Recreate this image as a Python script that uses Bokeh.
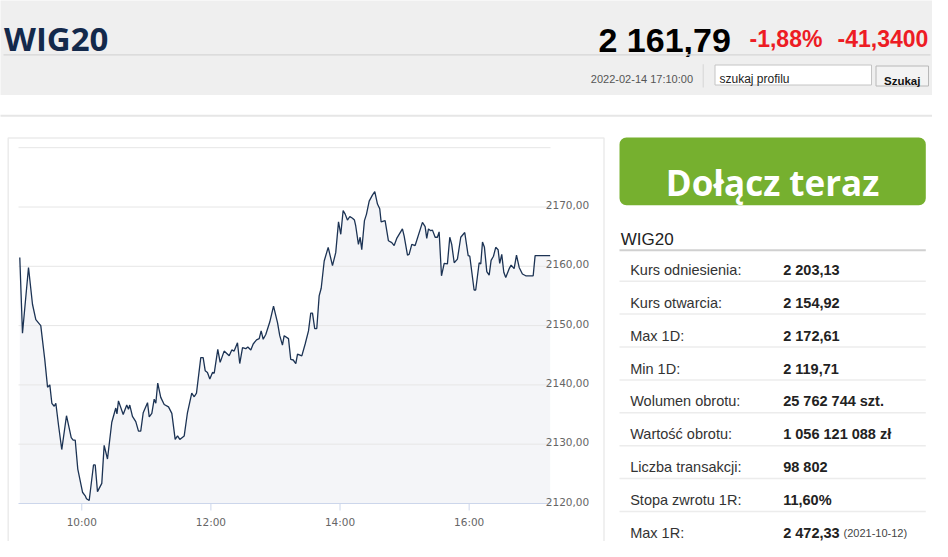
from bokeh.plotting import figure
from bokeh.models import Range1d, BoxAnnotation
from bokeh.core.properties import value
from bokeh.embed import file_html
from bokeh.resources import INLINE

# ---------------- data ----------------
# intraday WIG20 quotes, minutes after 09:00 and index value
time_min = [
    2.4, 4.9, 10.5, 14.2, 17.3, 21.9, 25.6, 28.2, 30.3, 32.2,
    34.4, 35.9, 38.4, 41.4, 45.8, 50.2, 52.0, 53.9, 56.3, 60.7,
    63.2, 64.4, 66.9, 70.9, 72.5, 74.6, 78.6, 80.8, 83.9, 87.9,
    91.6, 92.7, 94.1, 98.5, 101.8, 103.4, 104.6, 107.1, 110.2, 112.7,
    114.8, 117.1, 121.1, 122.7, 125.1, 127.3, 128.8, 130.6, 133.4, 136.6,
    140.6, 143.7, 146.8, 149.0, 151.1, 155.2, 158.2, 162.2, 164.5, 166.6,
    170.6, 172.8, 174.7, 176.8, 179.0, 181.5, 183.1, 186.4, 188.6, 192.3,
    197.0, 199.4, 201.6, 204.7, 206.8, 209.4, 212.4, 214.3, 217.1, 219.3,
    222.4, 224.9, 226.7, 228.6, 231.0, 234.7, 238.2, 241.9, 244.0, 246.5,
    248.1, 252.1, 254.2, 256.5, 258.9, 260.5, 264.5, 267.6, 270.7, 272.8,
    274.4, 276.5, 278.4, 280.6, 282.5, 285.3, 289.0, 293.0, 296.0, 298.6,
    300.7, 302.9, 304.8, 306.9, 309.1, 311.6, 313.4, 314.6, 317.1, 318.7,
    320.2, 322.7, 324.6, 327.1, 330.1, 332.3, 334.8, 336.9, 338.2, 341.9,
    345.0, 348.1, 350.3, 352.7, 358.0, 359.6, 362.7, 364.2, 366.7, 369.8,
    376.6, 379.1, 380.6, 382.2, 384.3, 385.9, 388.4, 390.5, 392.1, 394.3,
    396.8, 399.8, 402.0, 403.8, 406.1, 409.1, 412.2, 415.9, 419.1, 420.6,
    424.6, 426.1, 429.3, 430.8, 432.4, 434.2, 436.4, 438.6, 440.4, 442.6,
    444.7, 446.9, 448.4, 450.3, 452.2, 454.0, 457.2, 459.0, 461.8, 464.0,
    466.5, 469.5, 472.6, 479.5, 481.3, 495.3,
]
index_value = [
    2161.5, 2148.7, 2159.8, 2153.6, 2151.0, 2150.0, 2144.3, 2139.6, 2140.0, 2136.9,
    2136.4, 2136.9, 2133.2, 2129.1, 2134.8, 2131.1, 2130.7, 2130.7, 2125.8, 2121.9,
    2121.3, 2120.8, 2120.5, 2126.5, 2126.5, 2122.0, 2123.4, 2129.8, 2127.5, 2133.7,
    2136.1, 2135.1, 2137.3, 2135.0, 2136.6, 2135.9, 2136.6, 2134.7, 2133.8, 2132.2,
    2132.2, 2135.3, 2137.0, 2134.6, 2135.2, 2137.6, 2136.9, 2140.3, 2137.9, 2136.7,
    2136.3, 2135.2, 2130.8, 2131.4, 2130.8, 2131.4, 2135.3, 2138.6, 2138.0, 2138.6,
    2144.6, 2144.6, 2142.4, 2142.1, 2141.0, 2142.1, 2142.0, 2146.0, 2143.8, 2145.7,
    2144.9, 2145.9, 2145.7, 2147.1, 2143.6, 2146.3, 2146.1, 2146.4, 2145.9, 2146.9,
    2147.6, 2147.8, 2149.1, 2147.7, 2148.5, 2150.6, 2153.3, 2150.5, 2148.3, 2146.7,
    2148.3, 2147.8, 2144.3, 2144.2, 2143.6, 2145.2, 2144.9, 2146.9, 2149.1, 2152.1,
    2152.1, 2149.5, 2149.5, 2155.0, 2156.3, 2160.9, 2163.2, 2160.1, 2162.3, 2167.5,
    2165.4, 2169.4, 2168.8, 2167.8, 2168.4, 2168.1, 2167.8, 2166.8, 2163.7, 2164.9,
    2162.8, 2167.7, 2168.8, 2171.0, 2172.0, 2172.6, 2170.5, 2169.7, 2167.5, 2167.7,
    2164.3, 2164.0, 2163.5, 2164.7, 2166.3, 2165.1, 2161.9, 2162.0, 2163.7, 2163.5,
    2167.4, 2166.7, 2164.7, 2166.3, 2166.0, 2166.1, 2164.9, 2164.9, 2165.8, 2158.4,
    2160.5, 2160.4, 2164.9, 2163.7, 2160.6, 2161.2, 2164.9, 2165.7, 2161.8, 2161.7,
    2156.0, 2156.0, 2160.6, 2160.4, 2164.1, 2163.2, 2159.1, 2158.5, 2161.0, 2161.7,
    2163.2, 2162.8, 2160.5, 2162.0, 2159.0, 2158.1, 2159.6, 2160.2, 2159.6, 2161.9,
    2159.8, 2158.7, 2158.4, 2158.4, 2161.79, 2161.79,
]

grid_values = [2130, 2140, 2150, 2160, 2170, 2180]
y_label_values = [2120, 2130, 2140, 2150, 2160, 2170]
y_tick_labels = ["2120,00", "2130,00", "2140,00", "2150,00", "2160,00", "2170,00"]
x_tick_hours = [10, 12, 14, 16]
x_tick_labels = ["10:00", "12:00", "14:00", "16:00"]

ticker = "WIG20"
last_price = "2 161,79"
change_pct = "-1,88%"
change_abs = "-41,3400"
timestamp = "2022-02-14 17:10:00"
search_placeholder = "szukaj profilu"
search_button = "Szukaj"
cta_text = "Dołącz teraz"

row_labels = ["Kurs odniesienia:", "Kurs otwarcia:", "Max 1D:", "Min 1D:",
              "Wolumen obrotu:", "Wartość obrotu:", "Liczba transakcji:",
              "Stopa zwrotu 1R:", "Max 1R:"]
row_values = ["2 203,13", "2 154,92", "2 172,61", "2 119,71",
              "25 762 744 szt.", "1 056 121 088 zł", "98 802", "11,60%", "2 472,33"]
max1r_date = "(2021-10-12)"

# ---------------- layout ----------------
W, H = 932, 541
OX, OY = 8, 8                      # page margin
PL, PR, PT, PB = 26, 558, 155.2, 511   # chart plot area (page px)
T_LEFT, T_RIGHT = 9.02, 17.26      # hours shown in plot area
V_LOW, V_HIGH = 2120, 2180

sx = (PR - PL) / (T_RIGHT - T_LEFT)
sy = (PB - PT) / (V_HIGH - V_LOW)
x0 = T_LEFT - (PL - OX) / sx
x1 = T_LEFT + (OX + W - PL) / sx
y0 = V_LOW - (OY + H - PB) / sy
y1 = V_HIGH + (PT - OY) / sy

p = figure(width=W, height=H, output_backend="svg", toolbar_location=None,
           x_range=Range1d(x0, x1), y_range=Range1d(y0, y1),
           x_axis_type=None, y_axis_type=None, min_border=0,
           background_fill_color="white", border_fill_color="white")
p.outline_line_color = None
p.grid.visible = False
p.extra_x_ranges = {"px": Range1d(OX, OX + W)}
p.extra_y_ranges = {"py": Range1d(OY + H, OY)}

PX = dict(x_range_name="px", y_range_name="py")


def box(l, r, t, b, fill=None, line=None, lw=1.0):
    p.quad(left=[l], right=[r], top=[t], bottom=[b], fill_color=fill,
           line_color=line, line_width=lw, **PX)


def hline(xa, xb, yv, color, lw=1.0):
    p.segment(x0=[xa], x1=[xb], y0=[yv], y1=[yv], line_color=color, line_width=lw, **PX)


def txt(x, y, s, size, color, font="Liberation Sans", style="normal",
        align="left", baseline="alphabetic"):
    p.text(x=[x], y=[y], text=[s], text_font=value(font), text_font_size=f"{size}px",
           text_font_style=style, text_color=color, text_align=align,
           text_baseline=baseline, **PX)


# ---- header ----
box(0, 948, 4, 102.5, fill="#efefef")
txt(11.5, 45.7, ticker, 33, "#13294b", font="Open Sans", style="bold")
txt(606, 47.3, last_price, 34, "#000000", style="bold")
txt(757, 46.3, change_pct, 23, "#ed1c24", style="bold")
txt(845, 46.3, change_abs, 23, "#ed1c24", style="bold")
hline(11, 938, 62.3, "#d6d6d6", 1.2)
txt(700.5, 86.5, timestamp, 11, "#555555", align="right")
p.segment(x0=[710.7], x1=[710.7], y0=[71.7], y1=[95], line_color="#d6d6d6", line_width=1, **PX)
box(722.5, 879, 72.5, 92.5, fill="white", line="#c4c4c4")
txt(727, 86.8, search_placeholder, 12, "#222222")
box(883.5, 936, 73.5, 93.5, fill="#f3f3f3", line="#b8b8b8")
txt(909.7, 88, search_button, 11.5, "#111111", style="bold", align="center")

# ---- panels ----
box(2, 945.5, 123.3, 600, fill=None, line="#e6e6e6", lw=2)
box(15.7, 611.5, 145.5, 549.5, fill="white", line="#ebebeb", lw=1.5)

# ---- chart ----
hours = [9 + m / 60 for m in time_min]
p.varea(x=hours, y1=[V_LOW] * len(hours), y2=index_value, fill_color="#f4f5f8")
p.segment(x0=[T_LEFT] * len(grid_values), x1=[T_RIGHT] * len(grid_values),
          y0=grid_values, y1=grid_values, line_color="#e6e6e6", line_width=1)
p.segment(x0=[T_LEFT], x1=[T_RIGHT], y0=[V_LOW], y1=[V_LOW], line_color="#ccd6eb", line_width=1.2)
p.segment(x0=x_tick_hours, x1=x_tick_hours, y0=[PB] * 4, y1=[PB + 7] * 4,
          line_color="#ccd6eb", line_width=1, y_range_name="py")
p.line(hours, index_value, line_color="#1c3354", line_width=1.3)
p.text(x=x_tick_hours, y=[529.3] * 4, text=x_tick_labels, y_range_name="py",
       text_font=value("DejaVu Sans"), text_font_size="10.5px", text_color="#666666",
       text_align="center", text_baseline="alphabetic")
p.text(x=[553.3] * len(y_label_values), y=y_label_values, text=y_tick_labels,
       x_range_name="px", y_offset=-2,
       text_font=value("DejaVu Sans"), text_font_size="10.5px", text_color="#666666",
       text_align="left", text_baseline="alphabetic")

# ---- right panel ----
p.add_layout(BoxAnnotation(left=627, right=933.3, top=145, bottom=212.7,
                           fill_color="#76b02f", fill_alpha=1.0, line_color=None,
                           border_radius=7, level="underlay", **PX))
txt(780, 189.5, cta_text, 35, "white", font="Open Sans", style="bold", align="center")
txt(628.3, 246.7, ticker, 17, "#222222")
hline(627, 933.3, 257.7, "#d0d0d0", 2)
ROW0, PITCH = 277.3, 32.9
row_y = [ROW0 + PITCH * i for i in range(len(row_labels))]
sep_y = [y + 11.4 for y in row_y[:-1]]
p.segment(x0=[627] * len(sep_y), x1=[933.3] * len(sep_y), y0=sep_y, y1=sep_y,
          line_color="#ececec", line_width=1.5, **PX)
p.text(x=[637.7] * len(row_labels), y=row_y, text=row_labels,
       text_font=value("Liberation Sans"), text_font_size="14.5px", text_color="#333333",
       text_baseline="alphabetic", **PX)
p.text(x=[790.7] * len(row_values), y=row_y, text=row_values,
       text_font=value("Liberation Sans"), text_font_size="14.5px", text_font_style="bold",
       text_color="#222222", text_baseline="alphabetic", **PX)
txt(851, row_y[-1], max1r_date, 11, "#444444")

open("out.html", "w").write(file_html(p, INLINE))
